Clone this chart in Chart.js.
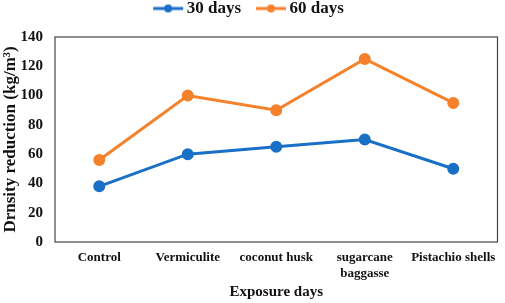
<!DOCTYPE html>
<html>
<head>
<meta charset="utf-8">
<script src="https://cdn.jsdelivr.net/npm/chart.js@4/dist/chart.umd.min.js"></script>
<style>
    html, body { margin: 0; padding: 0; background: #fff; }
    #wrap { width: 505px; height: 303px; }
</style>
</head>
<body>
<div id="wrap"><canvas id="chart"></canvas></div>
<script>
const categories = ['Control', 'Vermiculite', 'coconut husk', ['sugarcane', 'baggasse'], 'Pistachio shells'];
const days30 = [38, 60, 65, 70, 50];
const days60 = [56, 100, 90, 125, 95];
const yTicks = [0, 20, 40, 60, 80, 100, 120, 140];

const BLUE = '#1a6fc7';
const ORANGE = '#f5812a';
const FONT = "'Liberation Serif', 'Times New Roman', serif";

// legend marker: short line with a dot in the middle
function legendMarker(color) {
    const c = document.createElement('canvas');
    c.width = 36;
    c.height = 10;
    const ctx = c.getContext('2d');
    ctx.strokeStyle = color;
    ctx.lineWidth = 3;
    ctx.beginPath();
    ctx.moveTo(3, 5);
    ctx.lineTo(33, 5);
    ctx.stroke();
    ctx.fillStyle = color;
    ctx.beginPath();
    ctx.arc(18, 5, 4, 0, Math.PI * 2);
    ctx.fill();
    return c;
}

const frame = {
    id: 'frame',
    afterDraw(chart) {
        const a = chart.chartArea;
        const ctx = chart.ctx;
        ctx.save();
        ctx.strokeStyle = '#444';
        ctx.lineWidth = 1.2;
        ctx.strokeRect(a.left, a.top, a.right - a.left, a.bottom - a.top);
        ctx.restore();
    }
};

function buildChart() {
    const chartCtx = document.getElementById('chart').getContext('2d');

    new Chart(chartCtx, {
        type: 'line',
        data: {
            labels: categories,
            datasets: [{
                label: '30 days',
                data: days30,
                borderColor: BLUE,
                backgroundColor: BLUE,
                borderWidth: 3,
                pointRadius: 4.5,
                pointHoverRadius: 4.5
            },
            {
                label: '60 days',
                data: days60,
                borderColor: ORANGE,
                backgroundColor: ORANGE,
                borderWidth: 3,
                pointRadius: 4.5,
                pointHoverRadius: 4.5
            }]
        },
        options: {
            responsive: true,
            maintainAspectRatio: false,
            animation: false,
            layout: { padding: { left: 0, right: 3, top: -20, bottom: 0 } },
            plugins: {
                tooltip: { enabled: false },
                legend: {
                    position: 'top',
                    labels: {
                        usePointStyle: true,
                        pointStyleWidth: 20,
                        padding: 20,
                        color: '#111',
                        font: { family: FONT, size: 17, weight: 'bold' },
                        generateLabels(chart) {
                            return chart.data.datasets.map((ds, i) => ({
                                text: ds.label,
                                fillStyle: ds.borderColor,
                                strokeStyle: ds.borderColor,
                                fontColor: '#111',
                                pointStyle: legendMarker(ds.borderColor),
                                datasetIndex: i,
                                hidden: false
                            }));
                        }
                    }
                }
            },
            scales: {
                x: {
                    offset: true,
                    grid: { display: false, drawTicks: false },
                    border: { display: false },
                    afterFit(axis) {
                        axis.height = 61;
                    },
                    ticks: {
                        color: '#111',
                        padding: 8,
                        maxRotation: 0,
                        autoSkip: false,
                        font: { family: FONT, size: 13, weight: 'bold' }
                    },
                    title: {
                        display: true,
                        text: 'Exposure days',
                        color: '#111',
                        padding: { top: 0, bottom: 2 },
                        font: { family: FONT, size: 15, weight: 'bold' }
                    }
                },
                // empty spacer between legend and plot
                gap: {
                    type: 'category',
                    position: 'top',
                    grid: { display: false, drawTicks: false },
                    border: { display: false },
                    ticks: { display: false },
                    afterFit(axis) {
                        axis.height = 10;
                    }
                },
                y: {
                    min: 0,
                    max: 140,
                    grid: { display: false, drawTicks: false },
                    border: { display: false },
                    afterFit(axis) {
                        axis.width = 55;
                    },
                    afterBuildTicks(axis) {
                        axis.ticks = yTicks.map(v => ({ value: v }));
                    },
                    ticks: {
                        color: '#111',
                        padding: 12,
                        font: { family: FONT, size: 15, weight: 'bold' }
                    },
                    title: {
                        display: true,
                        text: 'Drnsity reduction (kg/m³)',
                        color: '#111',
                        padding: { top: 0, bottom: 0 },
                        font: { family: FONT, size: 17, weight: 'bold' }
                    }
                }
            }
        },
        plugins: [frame]
    });
}

buildChart();
</script>
</body>
</html>
